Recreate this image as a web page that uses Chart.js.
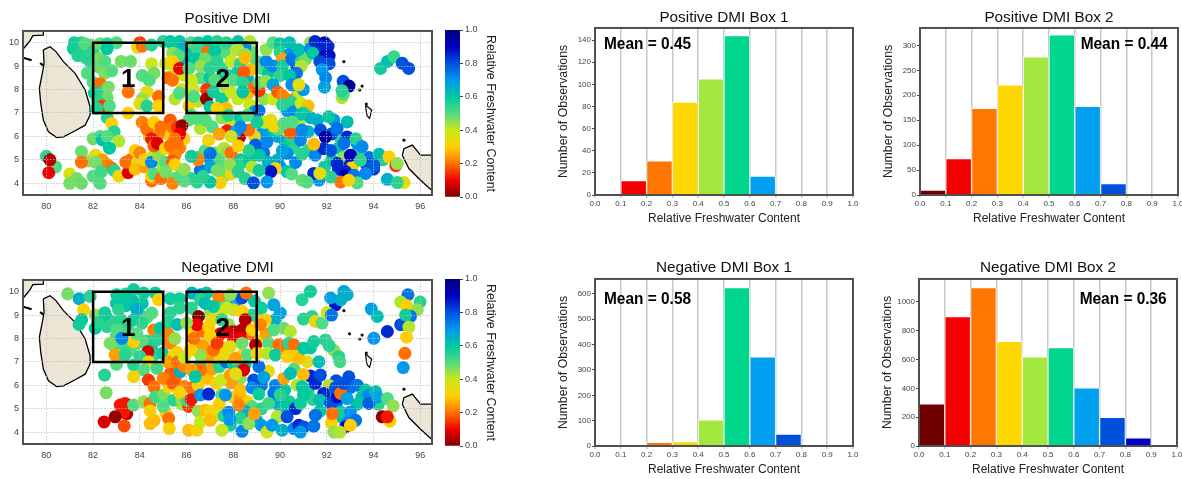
<!DOCTYPE html>
<html>
<head>
<meta charset="utf-8">
<title>Relative Freshwater Content</title>
<script src="https://cdn.jsdelivr.net/npm/chart.js@4/dist/chart.umd.min.js"></script>
<style>
  html, body { margin: 0; padding: 0; background: #fff; width: 1182px; height: 479px; overflow: hidden; }
  canvas { position: absolute; }
</style>
</head>
<body>
<script>
// Observations as [lon, lat, relative freshwater content]
const positiveObs = [
  [81.2,10,.58],[81.5,10,.56],[81.15,9.75,.58],[81.5,9.7,.56],[81.35,9.45,.56],[81.7,9.35,.55],[81.9,9.9,.47],[81.65,9.95,.5],[82,9.65,.55],[81.9,9.15,.55],[81.75,8.7,.5],[82.15,9,.52],[82.3,9.35,.47],[82.3,8.95,.48],[82.5,8.7,.46],
  [82,8.3,.5],[82.3,8.25,.2],[82.05,7.85,.58],[82.4,7.9,.55],[82.65,8.1,.47],[82.6,7.65,.48],[82.2,7.5,.55],[82.4,7.3,.15],[82.15,7.2,.55],[82.7,7.3,.5],
  [82.3,9.95,.48],[83,10,.5],[82.6,9.95,.55],[82.6,9.75,.6],[82.5,9.2,.5],[82.8,8.8,.5],[83.2,9.2,.47],[83.6,9.2,.48],[84,10,.15],[83.9,9.8,.35],[84.1,9.85,.2],[84.5,9.9,.55],[84.5,9.1,.4],[84.6,8.7,.47],[84.1,8.6,.5],[84.4,8.4,.5],[84.3,7.9,.35],[83.5,7.9,.2],[84.1,7.6,.45],[84,7.4,.35],[84.3,7.3,.55],[84.8,7.7,.2],[84.8,7.3,.3],[83.5,7,.3],[82.6,6.8,.55],[82.8,6.55,.3],[82.9,6.2,.55],
  [85.4,9.9,.55],[85.5,8.8,.35],[85.1,9.1,.4],[85.9,8.6,.4],[85.9,9.3,.65],[86.1,9.7,.6],[86.6,8.5,.5],[87,8.5,.6],[87.4,8.4,.6],[87.8,8.6,.55],[88.2,8.8,.6],[87.9,9.6,.4],[87.6,9.6,.5],[88.8,9.6,.48],[89,9.2,.5],[89.2,8.9,.5],[89.5,8.7,.6],[89.4,9.2,.72],[89.3,7.6,.45],[89.7,7.6,.4],[88.6,8.5,.65],[86.5,7.5,.42],[86.1,7.3,.3],[87.2,8.4,.5],[87.6,7.7,.4],[90.3,7.1,.7],[90.7,7.7,.5],[90.8,7.9,.4],[91,8,.7],[90.7,9,.8],[90.3,9.3,.78],
  [85,10.05,.55],[85.3,10.05,.6],[85.7,10.05,.6],[85.9,9.85,.65],[85.4,9.55,.45],[85.65,9.45,.5],[86.2,10,.5],[86.5,10,.58],[86.9,10.05,.6],[87.3,10.05,.55],[87.7,10,.55],[88.2,10.05,.6],[88.7,10.05,.42],[88.5,9.8,.72],[88.2,9.7,.42],[88.5,9.5,.45],
  [86.45,9.75,.53],[86.9,9.6,.2],[87.2,9.65,.6],[86.4,9.3,.6],[86.8,9.3,.48],[87.3,9.2,.55],[86.6,9,.45],[87,8.9,.55],[87.5,8.9,.55],[87.9,9.2,.4],[88.3,9.1,.55],[88.5,9.35,.28],[88.75,8.85,.28],[88.45,8.75,.18],[85.4,9.2,.3],[85.7,8.9,.1],[85.2,8.5,.2],[85.4,8.4,.2],[85.8,8,.35],[85.5,7.6,.42],[85.7,7.85,.5],[86.1,8.9,.5],[86.2,8.4,.4],[86.3,8,.4],[86.3,7.7,.5],
  [86.85,8,.15],[86.85,7.6,.02],[87.15,7.9,.58],[87,7.25,.6],[87.5,7.6,.58],[87.6,8.2,.45],[87.9,7.9,.4],[88.2,7.6,.4],[88,8.4,.5],[88.4,8.3,.55],[88.6,7.8,.28],[88.4,7.9,.6],[87.7,7.2,.28],[87.3,7.2,.3],[88.7,7.35,.4],[88.9,8.1,.2],[89.1,7.95,.15],[88.9,7.05,.7],[89.1,8.3,.5],[89.4,8.35,.45],[89.1,7.1,.75],
  [89.4,9.7,.45],[89.7,10,.5],[90,9.95,.6],[90.4,10,.62],[90,9.6,.55],[90.4,9.5,.7],[90.1,9.3,.25],[89.7,9,.72],[90.1,9,.58],[90.5,9.3,.75],[90.9,9.2,.55],[91.1,9.3,.48],[90.9,9,.42],[90.7,8.7,.75],[90,8.6,.55],[90.4,8.6,.6],[90.5,8.2,.72],[90.8,8.2,.35],[89.7,8.2,.68],[89.9,7.9,.18],[90.1,7.75,.22],[90.35,7.55,.22],[90.1,7.35,.55],[90.5,7.45,.55],[90.6,7.05,.72],[90.9,7.4,.4],[91.2,7.3,.28],[91,7,.55],[90.8,9.7,.62],[91.3,10,.45],
  [91.3,9.75,.72],[91.5,10.05,.85],[91.9,10,.9],[92.05,9.85,.85],[91.7,9.85,.85],[91.4,9.55,.6],[91.9,9.4,.95],[92.1,9.45,.88],[91.7,9.2,.8],[92.1,9.1,.8],[91.8,8.85,.7],[91.95,8.5,.72],[91.9,8.1,.68],[92.7,8.35,.8],[92.95,8.15,.95],[92.65,7.65,.42],[92.7,7.8,.5],[92.65,7.95,.55],
  [94.3,8.9,.58],[94.6,9.2,.62],[94.87,9.4,.53],[95.23,9.12,.8],[95.5,8.9,.8],
  [86.5,5.1,.55],[86.8,5.4,.5],[87,5.05,.72],[87.2,5.3,.47],[87.4,5,.5],[87.6,5.5,.42],[87.4,4.7,.5],[87.6,4.3,.47],[87.9,4.4,.35],[88.1,4.8,.4],[88.3,5,.6],[88.5,4.2,.55],[88.4,4.9,.55],[88.7,5,.6],[89,5.4,.7],[89.3,5.3,.75],[89.5,4.9,.65],[89.9,5,.65],[90,4.7,.72],[90.3,4.5,.6],[90.5,4.4,.5],[90.6,5.5,.55],[90.2,5.8,.6],[89.9,6,.68],[89.5,6.1,.6],[89.2,6.1,.7],[88.9,6,.35],[89.3,6.6,.4],[89.6,6.7,.35],[90.8,6.6,.42],[90.2,6.3,.4],[90.5,6,.55],[91.2,6.2,.65],[91.2,5.4,.55],[91.5,5.2,.72],[91.6,4.3,.55],[91.9,4.7,.58],[92.2,5,.6],[92.5,5.5,.62],[92.7,5.1,.45],[92.5,4.6,.85],[93,4.8,.85],[93.3,5.3,.55],[93.3,5.7,.72],[93.8,5.1,.75],[93.7,4.8,.82],[94,4.6,.82],[93.1,4.7,.3],[94.4,5,.55],[92.6,5.9,.55],[92.2,6.1,.8],[92.3,6.7,.7],[91.3,6.8,.65],[90.9,6.95,.6],[89.9,6.3,.5],
  [91.6,6.7,.65],[92.08,6.84,.6],[92.87,6.62,.62],[92.44,6.34,.75],[91.73,6.27,.8],[91.94,5.98,.95],[92.87,5.98,.85],[93.23,5.9,.55],[92.73,5.7,.75],[93.51,5.56,.72],[91.87,5.48,.85],[92.16,5.4,.8],[93.01,5.2,.9],[94.23,5.24,.62],[94.66,5.13,.3],[94.95,4.75,.15],[95.01,4.84,.45],[94.01,4.77,.78],[93.44,4.98,.55],[92.44,4.84,.85],[93.66,4.42,.72],[94.59,4.17,.65],[95.3,4.03,.35],[95.01,4.03,.55],[92.8,4.5,.85],[92.8,4.34,.92],[93.16,4.34,.75],[93.3,4.02,.5],[92.59,4.06,.2],[92.94,4.13,.3],[92.16,4.27,.55],[91.66,4.13,.7],[91.44,4.42,.85],[91.7,4.42,.35],[90.94,4.13,.48],[91.15,4.05,.5],
  [90.3,5.27,.72],[90.1,5.4,.68],[90.66,4.89,.72],[90.94,5.24,.55],[91.44,5.67,.28],[90.87,5.84,.72],[90.44,6.17,.18],[90.94,6.27,.72],[89.73,6.44,.32],[90.16,6.55,.5],[90.51,6.62,.5],[89.44,5.77,.72],[88.94,5.63,.78],[89.8,4.63,.3],[89.6,4.5,.88],[89.44,4.06,.7],[88.86,4.02,.8],[88.8,4.7,.42],[89.1,4.55,.58],[89.1,5.2,.6],[88.66,5.4,.55],[88.27,5.98,.05],[88.66,6.27,.2],[89.01,6.6,.58],[87.87,6.62,.4],[87.73,6.24,.12],[86.94,5.84,.32],[87.09,6.41,.5],[86.59,6.34,.42],[86.44,6.77,.5],[87.01,5.27,.75],[86.59,4.55,.75],[86.5,5,.22],[86.2,5.15,.58],[87.01,4.7,.68],[87.73,5.34,.45],[87.9,5.3,.2],[87.44,4.02,.3],[87,4.05,.6],[87.3,4.55,.47],[87.85,4.8,.45],[88.2,4.5,.55],[86.45,4.05,.55],[86.2,4.2,.55],
  [82,5.9,.48],[82.3,6,.5],[82.4,5.85,.62],[82.6,6,.5],[83.1,5.8,.42],[82.7,5.5,.6],[81.5,5.35,.48],[81.8,4.95,.45],[81.5,4.9,.2],[82.1,5.2,.35],[82.4,5,.25],[82.6,4.8,.22],[82.8,4.65,.2],[82.9,4.55,.55],[82.1,4.9,.47],[82,4.3,.5],[82.35,4.5,.52],[82.3,4,.5],[81,4.4,.37],[81,4,.47],[81.3,4.2,.47],[81.5,4,.48],[80,5.15,.55],[80.4,4.7,.5],[80.15,5,.05],[80.1,4.45,.1],[83.1,4.3,.33],[83.5,4.45,.08],[83.4,4.9,.2],[83.6,5,.2],[83.8,5.4,.3],[83.9,4.9,.35],[83.8,4.6,.28],[84.2,4.7,.25],[84,5.3,.22],[84.2,5,.3],[84.5,5.1,.4],[84.5,4.9,.72],[84.5,4.1,.2],[84.5,4.3,.3],[84.6,4.4,.5],[84.9,4.2,.2],[84.8,5.2,.45],[85,4.7,.42],
  [85.1,4.9,.5],[85.7,5.5,.22],[85.9,5.9,.3],[85.6,5.7,.2],[85.2,6.1,.3],[84.8,6.1,.22],[84.1,6.6,.22],[84.4,6,.42],[86.1,6.7,.5],[86.2,6.9,.5],[86.8,6.7,.5],[87.5,6.8,.45],[87.8,6.9,.55],[88.3,6.8,.6],[88.6,6.9,.5],[88.1,6.2,.7],[87.4,6.1,.25],[86.7,4.3,.55],[85.9,4.1,.5],[88.2,5.6,.3],[87.9,6,.38],[88.3,6.4,.72],
  [84.3,6.3,.2],[84.6,6.6,.3],[84.9,6.4,.2],[84.5,5.9,.12],[84.6,5.6,.18],[84.75,5.7,.08],[85.1,5.5,.3],[85.3,6.7,.18],[85.4,6.4,.2],[85.6,6.4,.15],[85.8,6.45,.02],[85.7,6.1,.1],[85.5,5.9,.2],[85.3,5.6,.2],[85.5,5.2,.22],[85.4,4.95,.18],[85.5,4.8,.3],[85.1,4.5,.47],[85.45,4.2,.48],[85.4,4,.22],[85.7,4.3,.5],[85.9,4.6,.45]
];

const negativeObs = [
  [80.91,9.91,.47],[81.4,9.7,.65],[81.59,9.23,.3],[81.51,8.8,.6],[81.4,8.6,.58],[82.09,9.01,.45],[81.87,9.8,.55],[82.09,8.44,.6],[82.59,8.87,.62],[82.59,8.51,.55],[82.2,8.7,.55],[82.5,9.1,.58],[83,9.5,.6],[83.4,9.9,.55],[83.4,9.4,.6],[83.7,9.6,.62],[84.1,9.5,.6],[83.2,8.8,.55],[83.5,8.6,.55],[82.9,8.7,.55],[83,8.1,.5],[84,9,.55],[84.3,8.9,.5],[83.9,7.8,.5],[84.3,7.9,.55],[84.5,7.6,.58],[84.1,7.9,.5],[82.9,7.7,.5],[83.3,8.2,.52],[84.6,7.3,.55],[85,8,.2],[83.6,7.5,.5],[83,6.9,.5],
  [83.01,9.87,.58],[83.09,9.23,.55],[83.73,10.09,.58],[83.45,9.7,.6],[83.87,9.23,.66],[83.73,8.8,.58],[84.16,9.94,.58],[84.66,9.94,.58],[84.8,9.66,.3],[84.51,9.09,.5],[84.09,8.66,.55],[84.59,8.37,.22],[84.87,8.44,.6],[84.73,7.94,.55],[83.01,8.37,.5],[82.73,7.8,.47],[82.94,7.3,.25],[83.37,7.66,.52],[83.73,7.87,.3],[83.37,7.3,.55],[83.87,8.2,.5],[83.23,8.01,.72],[84.34,7.44,.08],[84.01,7.23,.55],[84.37,7.01,.33],[84.97,7.37,.58],[83.73,6.87,.55],[84.73,6.73,.52],[84.16,6.66,.5],[82.49,6.44,.55],[83.73,6.37,.33],[82.56,5.69,.47],
  [85.2,8.2,.22],[85.3,7.8,.22],[85.5,8,.45],[85.3,9.1,.55],[85.7,9.7,.58],[85.3,9.7,.58],[85.7,9.3,.55],[85.2,8.7,.55],[85.6,8.6,.62],[85.6,7.4,.3],[89.2,7.9,.3],[89.4,8.2,.25],[89,8.9,.3],[89.2,9.3,.58],[90.1,7.5,.22],[91.3,7.6,.6],
  [83.16,5.16,.12],[83.37,5.23,.12],[83.44,4.8,.05],[83.3,4.85,.12],[82.94,4.66,.02],[82.47,4.44,.08],[83.33,4.27,.17],[83.73,5.16,.5],[84.37,6.23,.15],[84.61,5.94,.2],[84.16,5.3,.45],[84.44,5.23,.2],[84.44,4.91,.3],[84.61,4.51,.28],[84.44,4.37,.28],[84.66,5.51,.52],[85.01,5.59,.47],[85.11,4.83,.3],[85.23,4.59,.2],[85.26,4.16,.3],[85.23,5.94,.3],[85.51,6.3,.2],[85.44,6.73,.25],[85.3,6.5,.18],[85.73,6.59,.65],[85.44,7.26,.32],[85.9,5.95,.22],[85.8,5.2,.42],[85.44,5.37,.55],[85.8,5.37,.45],[86.09,5.1,.15],[86.01,5.37,.52],
  [85,6.3,.22],[85.2,7,.25],[85.6,7,.2],[85.9,6.8,.22],[85.9,7.2,.4],[85.4,6.1,.18],[85,5.1,.5],[85.7,5.7,.3],[86.2,5.9,.2],[86.2,5.4,.12],[86.5,6,.3],[86.9,6.3,.28],[86.6,6.9,.55],[87.1,6.7,.25],[87.4,6.8,.55],[87.7,7,.75],[88,6.9,.6],[88.5,6.9,.6],[88.3,6.3,.45],[87.9,6.1,.25],[87.5,5.6,.5],[88,5.5,.3],[88.3,5.5,.25],[88.6,5.3,.3],[88.8,5.1,.5],[87.4,5.2,.3],[87.2,4.7,.4],[86.5,4.9,.45],[87.6,4.7,.55],[88.5,4.9,.65],[89,4.5,.65],[89.2,5,.55],[89.2,4.3,.7],[89.9,5.2,.65],[90.2,5.8,.6],[90.4,5.3,.58],[90.2,5.1,.6],[89.8,6,.72],[89.5,6.6,.32],[89.2,6,.75],[91.2,5.8,.58],[91.4,5.4,.55],[91.7,4.9,.6],[91,5.6,.6],[91.3,6.4,.85],[90.6,6.7,.5],[92.1,5.7,.68],[92.4,6.2,.8],[92.4,5.2,.78],[92.8,5.7,.78],[93,5.9,.75],[93.5,5.5,.62],[93.3,5.2,.6],[92.2,4.4,.3],[92.7,4.6,.62],[92.9,4.5,.72],[93.9,5.5,.72],[94.2,5.2,.55],
  [86.09,4.09,.28],[86.44,4.09,.3],[86.59,4.44,.4],[86.8,4.94,.28],[86.59,5.59,.7],[86.94,5.63,.85],[86.6,6.66,.2],[86.2,6.66,.25],[86.37,6.37,.6],[87,4.9,.3],[87.01,4.51,.28],[87.27,6.09,.3],[87.66,5.59,.7],[87.47,6.23,.4],[87.87,6.44,.25],[88.44,6.66,.08],[88.1,6.5,.35],[88.3,5.8,.28],[88.23,5.16,.22],[87.8,4.85,.72],[87.87,4.3,.58],[88.37,4.04,.72],[87.51,4.09,.4],[88.3,4.6,.55],[88.66,4.37,.45],[88.9,4.8,.25],[87.85,4.55,.7],[89.09,6.8,.75],[88.87,6.23,.8],[89.3,6.34,.68],[88.8,5.9,.72],[89.09,5.63,.58],[89.73,5.66,.75],[89.51,5.23,.52],[89.87,4.66,.42],[89.44,4.01,.38],[89.66,4.3,.7],[90.09,4.09,.65],[90.66,5.01,.85],[90.3,4.66,.8],[90.59,4.16,.72],[90.8,4.3,.85],[91.01,4.23,.8],[91.44,4.26,.75],[91.51,4.73,.75],[90.87,4.01,.7],
  [90.16,6.3,.25],[90.44,6.51,.62],[90.99,6.47,.28],[90.73,6.01,.42],[90.94,5.94,.6],[90,5.6,.55],[90.87,5.23,.58],[91.51,6.09,.85],[91.73,6.44,.8],[92.09,6,.42],[91.87,5.66,.85],[91.7,5.37,.62],[92.16,5.23,.8],[92.44,5.51,.88],[92.37,5.9,.8],[92.59,5.66,.2],[92.87,5.44,.68],[92.94,6.37,.8],[92.73,6.09,.8],[93.3,6.01,.75],[93.66,5.8,.6],[92.59,4.87,.58],[93.01,4.87,.7],[93.23,4.51,.75],[92.8,4.23,.9],[93.01,4.3,.3],[92.23,4.8,.2],[92.3,4.01,.45],[92.56,4.01,.42],[93.8,5.59,.72],[94.09,5.73,.62],[93.8,5.23,.78],[94.16,5.5,.68],[94.59,5.44,.5],[94.84,5.13,.45],[94.37,4.66,.02],[94.7,4.47,.32],[94.59,4.66,.12],
  [86.2,9.3,.55],[86.3,8.3,.3],[86.7,8.3,.2],[87,9.1,.45],[87.4,9.1,.4],[87.8,8.6,.45],[88,8.3,.05],[88.7,8.2,.2],[88.8,9,.55],[88.9,9.6,.6],[88.1,9.6,.7],[87.6,9.6,.5],[87.3,7.3,.3],[87.6,7.3,.35],[86.9,7.2,.25],[86.4,7.8,.35],[88.4,7.3,.3],[87.5,7.65,.3],[86.7,7.7,.25],[86.3,8,.2],[87.7,8.3,.08],
  [86.59,9.87,.72],[86.23,9.94,.65],[87.37,9.8,.22],[86.85,9.94,.6],[88.37,9.73,.8],[88.55,9.94,.2],[87.87,9.87,.45],[86.59,9.66,.55],[87.15,9.37,.6],[86.51,8.94,0],[86.44,8.59,.1],[86,8.66,.45],[87.08,8.8,.35],[88.01,9.23,.38],[87.73,9.3,.4],[88.37,9.16,.3],[88.37,8.37,.05],[88.51,8.8,.05],[87.44,8.2,.1],[87.01,8.1,.3],[88,8,.1],[88.3,8,.1],[88.37,7.8,.48],[88.95,7.73,.05],[87.87,7.66,.35],[87.15,7.5,.2],[86.59,7.3,.45],[86.16,7.5,.3],[87.3,7.8,.15],[88.6,7.3,.5],[89.01,7.37,.3],[88.08,7.16,.25],[88.8,8.37,.3],[86.94,8.5,.3],[87.51,8.8,.55],[86.8,9.5,.62],
  [89.51,9.94,.45],[89.73,9.44,.68],[90.01,9.09,.68],[89.8,8.8,.66],[89.37,8.8,.3],[89.16,8.59,.22],[89.73,8.37,.5],[90.16,8.44,.48],[90.44,8.3,.42],[89.51,7.8,.5],[89.94,7.73,.2],[90.37,7.8,.55],[90.59,7.73,.2],[89.44,7.37,.42],[89.8,7.3,.58],[90.3,7.23,.3],[90.59,7.23,.3],[91.16,7.01,.35],[90.8,7.16,.28],[91.66,7.01,.62],[91.01,7.59,.6],[91.44,7.87,.58],[91.94,7.94,.55],[92.3,7.5,.45],[92.51,7.23,.55],[92.56,7.01,.52],[92.1,7.7,.55],[90.94,9.66,.55],[91.3,10.01,.58],[91,8.83,.55],[91.37,8.94,.55],[91.51,8.73,.33],[91.8,8.66,.5],[92.37,9.44,.88],[92.01,9.11,.4],[92.16,9.73,.68],[92.2,9,.75],[92.73,10.01,.67],[92.87,9.87,.65],[92.6,9.66,.65],
  [93.9,9.26,.68],[94.16,8.94,.62],[94.01,8.01,.7],[94.59,8.3,.85],[95.16,8.59,.8],[95.47,9.87,.75],[95.16,9.56,.42],[95.41,9.41,.3],[95.99,9.56,.55],[95.87,9.23,.45],[95.58,8.95,.75],[95.37,9.01,.58],[95.51,8.49,.42],[95.41,8.06,.3],[95.34,7.37,.2],[95.27,6.76,.7]
];

// Histogram counts, one bar per 0.1 bin
const binLabels = ['0.0-0.1', '0.1-0.2', '0.2-0.3', '0.3-0.4', '0.4-0.5', '0.5-0.6', '0.6-0.7', '0.7-0.8', '0.8-0.9', '0.9-1.0'];
const binColors = ['#700000', '#f50000', '#ff7700', '#ffd700', '#a2e83f', '#00d68c', '#009ff0', '#0050dc', '#0000c8', '#000080'];
const positiveBox1 = [0, 13, 31, 84, 105, 144, 17, 0, 0, 0];
const positiveBox2 = [10, 73, 174, 221, 277, 321, 178, 23, 0, 0];
const negativeBox1 = [0, 3, 14, 17, 103, 625, 352, 47, 0, 0];
const negativeBox2 = [293, 898, 1100, 726, 618, 683, 403, 199, 57, 0];

// Tick labels
const lonTicks = [80, 82, 84, 86, 88, 90, 92, 94, 96];
const latTicks = [4, 5, 6, 7, 8, 9, 10];
const contentTicks = [0, 0.1, 0.2, 0.3, 0.4, 0.5, 0.6, 0.7, 0.8, 0.9, 1];
const colorbarTicks = [0, 0.2, 0.4, 0.6, 0.8, 1];

// Map outlines in lon/lat
const sriLanka = [[79.87,9.69],[80.16,9.83],[80.41,9.62],[80.73,9.19],[81.23,8.69],[81.66,7.98],[81.87,7.26],[81.87,6.91],[81.66,6.48],[81.23,6.24],[80.73,5.98],[80.44,5.95],[80.09,6.2],[79.87,6.7],[79.76,7.41],[79.7,8.05],[79.84,8.76],[79.9,9.12],[79.87,9.69]];
const india = [[79,10.6],[79.87,10.6],[79.87,10.32],[79.42,10.3],[79.28,10.05],[79,9.72],[79,10.6]];
const indiaTip = [[79,9.36],[79.37,9.25]];
const mannar = [[79.73,9.13],[79.87,9.03]];
const sumatra = [[96.6,5.2],[96.01,5.2],[95.66,5.63],[95.3,5.48],[95.23,5.2],[95.51,4.63],[96.01,4.13],[96.6,3.6],[96.6,5.2]];
const greatNicobar = [[93.66,7.34],[93.92,7.12],[93.83,6.77],[93.73,6.87],[93.69,7.05],[93.66,7.34]];
const islandDots = [[92.73,9.19],[93.51,8.15],[93.41,7.98],[92.97,8.2],[93.69,7.38],[95.3,5.84]];

// Boxes drawn on the maps
const box1 = [[82,7],[85,7],[85,10],[82,10],[82,7]];
const box2 = [[86,7],[89,7],[89,10],[86,10],[86,7]];

// Colour scale of the maps, [value, colour]
const colorStops = [[0,'#800000'],[0.1,'#f00000'],[0.2,'#ff7000'],[0.3,'#ffd000'],[0.4,'#c8e818'],[0.45,'#90e050'],[0.5,'#50dc80'],[0.6,'#00c8a0'],[0.7,'#0098f0'],[0.8,'#0050e0'],[0.9,'#0000c0'],[1,'#000080']];

const fontFamily = '"Liberation Sans", Arial, sans-serif';
const tickColor = '#444';

function hexToRgb(hex) {
  return [1, 3, 5].map(i => parseInt(hex.slice(i, i + 2), 16));
}

function colorFor(value) {
  for (let i = 1; i < colorStops.length; i++) {
    if (value <= colorStops[i][0]) {
      const [v0, c0] = colorStops[i - 1];
      const [v1, c1] = colorStops[i];
      const t = (value - v0) / (v1 - v0);
      const a = hexToRgb(c0);
      const b = hexToRgb(c1);
      return `rgb(${a.map((ch, k) => Math.round(ch + (b[k] - ch) * t)).join(',')})`;
    }
  }
  return colorStops[colorStops.length - 1][1];
}

function toXY(list) {
  return list.map(p => ({ x: p[0], y: p[1] }));
}

function addCanvas(left, top, width, height) {
  const canvas = document.createElement('canvas');
  canvas.width = width;
  canvas.height = height;
  canvas.style.left = left + 'px';
  canvas.style.top = top + 'px';
  canvas.style.width = width + 'px';
  canvas.style.height = height + 'px';
  document.body.appendChild(canvas);
  return canvas.getContext('2d');
}

function fixedTicks(values) {
  return scale => { scale.ticks = values.map(v => ({ value: v })); };
}

// Dark frame round the plot area
const framePlugin = {
  id: 'frame',
  afterDraw(chart) {
    const { ctx, chartArea: a } = chart;
    ctx.save();
    ctx.strokeStyle = '#505050';
    ctx.lineWidth = 2;
    ctx.strokeRect(a.left, a.top, a.right - a.left, a.bottom - a.top);
    ctx.restore();
  }
};

// Boxes 1 and 2 go above the dotted grid, so they are drawn last
const boxPlugin = {
  id: 'boxes',
  afterDraw(chart) {
    const { ctx, scales } = chart;
    ctx.save();
    ctx.strokeStyle = '#000';
    ctx.lineWidth = 2.5;
    [box1, box2].forEach(box => {
      ctx.beginPath();
      box.forEach(p => ctx.lineTo(scales.x.getPixelForValue(p[0]), scales.y.getPixelForValue(p[1])));
      ctx.closePath();
      ctx.stroke();
    });
    ctx.font = 'bold 26px ' + fontFamily;
    ctx.fillStyle = '#000';
    ctx.textAlign = 'center';
    ctx.textBaseline = 'middle';
    ctx.fillText('1', scales.x.getPixelForValue(83.5), scales.y.getPixelForValue(8.42));
    ctx.fillText('2', scales.x.getPixelForValue(87.55), scales.y.getPixelForValue(8.42));
    ctx.restore();
  }
};

function outline(points, order, width, fillColor) {
  return {
    data: toXY(points),
    showLine: true,
    pointRadius: 0,
    borderColor: '#000',
    borderWidth: width,
    backgroundColor: fillColor || 'transparent',
    fill: fillColor ? 'shape' : false,
    order: order
  };
}

function drawMap(top, title, observations) {
  const ctx = addCanvas(0, top, 440, 220);
  const landColor = '#ece6d6';

  new Chart(ctx, {
    type: 'scatter',
    data: {
      datasets: [
        {
          data: toXY(islandDots),
          pointRadius: 1.6,
          pointBackgroundColor: '#111',
          pointBorderWidth: 0,
          order: 0
        },
        {
          data: observations.map(p => ({ x: p[0], y: p[1], v: p[2] })),
          pointRadius: 6.5,
          pointBorderWidth: 0,
          pointBackgroundColor: c => colorFor(c.raw ? c.raw.v : 0),
          order: 1
        },
        outline(sriLanka, 2, 1.3, landColor),
        outline(india, 2, 1.3, landColor),
        outline(sumatra, 2, 1.3, landColor),
        outline(indiaTip, 2, 2),
        outline(mannar, 2, 2),
        outline(greatNicobar, 2, 1.2)
      ]
    },
    options: {
      responsive: false,
      animation: false,
      layout: { padding: { right: 8 } },
      plugins: {
        legend: { display: false },
        tooltip: { enabled: false },
        title: {
          display: true,
          fullSize: false,
          text: title,
          color: '#111',
          font: { family: fontFamily, size: 15.3, weight: 'normal', lineHeight: 1.2 },
          padding: { top: 10, bottom: 2.6 }
        }
      },
      scales: {
        x: {
          type: 'linear',
          min: 79,
          max: 96.5,
          afterBuildTicks: fixedTicks(lonTicks),
          afterFit: s => { s.height = 25; },
          grid: { color: 'rgba(190,190,190,0.8)', z: 1, drawTicks: false },
          border: { display: false, dash: [1.5, 1.5] },
          ticks: { color: tickColor, padding: 6, maxRotation: 0, font: { family: fontFamily, size: 9 } }
        },
        y: {
          type: 'linear',
          min: 3.5,
          max: 10.5,
          afterBuildTicks: fixedTicks(latTicks),
          afterFit: s => { s.width = 23; },
          grid: { color: 'rgba(190,190,190,0.8)', z: 1, drawTicks: false },
          border: { display: false, dash: [1.5, 1.5] },
          ticks: { color: tickColor, padding: 4, font: { family: fontFamily, size: 9 } }
        }
      }
    },
    plugins: [framePlugin, boxPlugin]
  });
}

function drawColorbar(top) {
  const ctx = addCanvas(445, top, 54, 207);
  new Chart(ctx, {
    type: 'bar',
    data: {
      labels: ['scale'],
      datasets: [{
        data: [[0, 1]],
        barPercentage: 1,
        categoryPercentage: 1,
        borderWidth: 0,
        backgroundColor: c => {
          const { chart } = c;
          if (!chart.chartArea) return '#888';
          const y = chart.scales.y;
          const g = chart.ctx.createLinearGradient(0, y.getPixelForValue(0), 0, y.getPixelForValue(1));
          colorStops.forEach(s => g.addColorStop(s[0], s[1]));
          return g;
        }
      }]
    },
    options: {
      responsive: false,
      animation: false,
      layout: { padding: { top: 30, bottom: 10 } },
      plugins: { legend: { display: false }, tooltip: { enabled: false } },
      scales: {
        x: { display: false },
        y: {
          position: 'right',
          min: 0,
          max: 1,
          afterBuildTicks: fixedTicks(colorbarTicks),
          afterFit: s => { s.width = 39; },
          grid: { display: true, drawOnChartArea: false, drawTicks: true, tickLength: 3, color: '#444' },
          border: { display: false },
          ticks: { color: tickColor, padding: 2, callback: v => v.toFixed(1), font: { family: fontFamily, size: 9 } },
          title: {
            display: true,
            text: 'Relative Freshwater Content',
            color: '#222',
            padding: 1,
            font: { family: fontFamily, size: 12.4 }
          }
        }
      }
    }
  });
}

function drawHistogram(left, top, title, counts, yMax, yStep, mean, meanX, meanAlign, titleTop, meanOffset) {
  const ctx = addCanvas(left, top, 306, 228);
  const meanLabel = {
    id: 'meanLabel',
    afterDraw(chart) {
      const { ctx, scales, chartArea } = chart;
      ctx.save();
      ctx.font = 'bold 17px ' + fontFamily;
      ctx.fillStyle = '#000';
      ctx.textAlign = meanAlign;
      ctx.textBaseline = 'middle';
      ctx.fillText('Mean = ' + mean.toFixed(2), scales.xValue.getPixelForValue(meanX), chartArea.top + meanOffset, 87);
      ctx.restore();
    }
  };

  new Chart(ctx, {
    type: 'bar',
    data: {
      labels: binLabels,
      datasets: [{
        data: counts,
        backgroundColor: binColors,
        borderColor: 'rgba(255,255,255,0.6)',
        borderWidth: 1,
        barPercentage: 1,
        categoryPercentage: 1
      }]
    },
    options: {
      responsive: false,
      animation: false,
      layout: { padding: { right: 8 } },
      plugins: {
        legend: { display: false },
        tooltip: { enabled: false },
        title: {
          display: true,
          fullSize: false,
          text: title,
          color: '#111',
          font: { family: fontFamily, size: 15.3, weight: 'normal', lineHeight: 1.2 },
          padding: { top: titleTop, bottom: 9.6 - titleTop }
        }
      },
      scales: {
        x: { display: false },
        // bars sit on the bins, the 0.0 - 1.0 ticks sit on their edges
        xValue: {
          type: 'linear',
          position: 'bottom',
          offset: false,
          min: 0,
          max: 1,
          afterBuildTicks: fixedTicks(contentTicks),
          afterFit: s => { s.height = 33; },
          grid: { offset: false, color: '#c8c8c8', lineWidth: 1.5, tickLength: 3 },
          border: { display: false },
          ticks: { color: tickColor, padding: 1, maxRotation: 0, callback: v => v.toFixed(1), font: { family: fontFamily, size: 8 } },
          title: {
            display: true,
            text: 'Relative Freshwater Content',
            color: '#222',
            padding: { top: 0, bottom: 2 },
            font: { family: fontFamily, size: 12 }
          }
        },
        y: {
          min: 0,
          max: yMax,
          ticks: { stepSize: yStep, color: tickColor, padding: 1, callback: v => String(v), font: { family: fontFamily, size: 8 } },
          afterBuildTicks: s => { s.ticks = s.ticks.filter(t => t.value % yStep === 0); },
          afterFit: s => { s.width = 40; },
          grid: { drawOnChartArea: false, drawTicks: true, tickLength: 3, color: '#444' },
          border: { display: false },
          title: {
            display: true,
            text: 'Number of Observations',
            color: '#222',
            padding: 1,
            font: { family: fontFamily, size: 12.3 }
          }
        }
      }
    },
    plugins: [framePlugin, meanLabel]
  });
}

drawMap(0, 'Positive DMI', positiveObs);
drawMap(249, 'Negative DMI', negativeObs);
drawColorbar(0);
drawColorbar(249);
drawHistogram(555, 0, 'Positive DMI Box 1', positiveBox1, 151, 20, 0.45, 0.035, 'left', 8.8, 16.5);
drawHistogram(880, 0, 'Positive DMI Box 2', positiveBox2, 335, 50, 0.44, 0.96, 'right', 8.8, 16.5);
drawHistogram(555, 251, 'Negative DMI Box 1', negativeBox1, 659, 100, 0.58, 0.035, 'left', 7.8, 20);
drawHistogram(879, 251, 'Negative DMI Box 2', negativeBox2, 1159, 200, 0.36, 0.96, 'right', 7.8, 20);
</script>
</body>
</html>
